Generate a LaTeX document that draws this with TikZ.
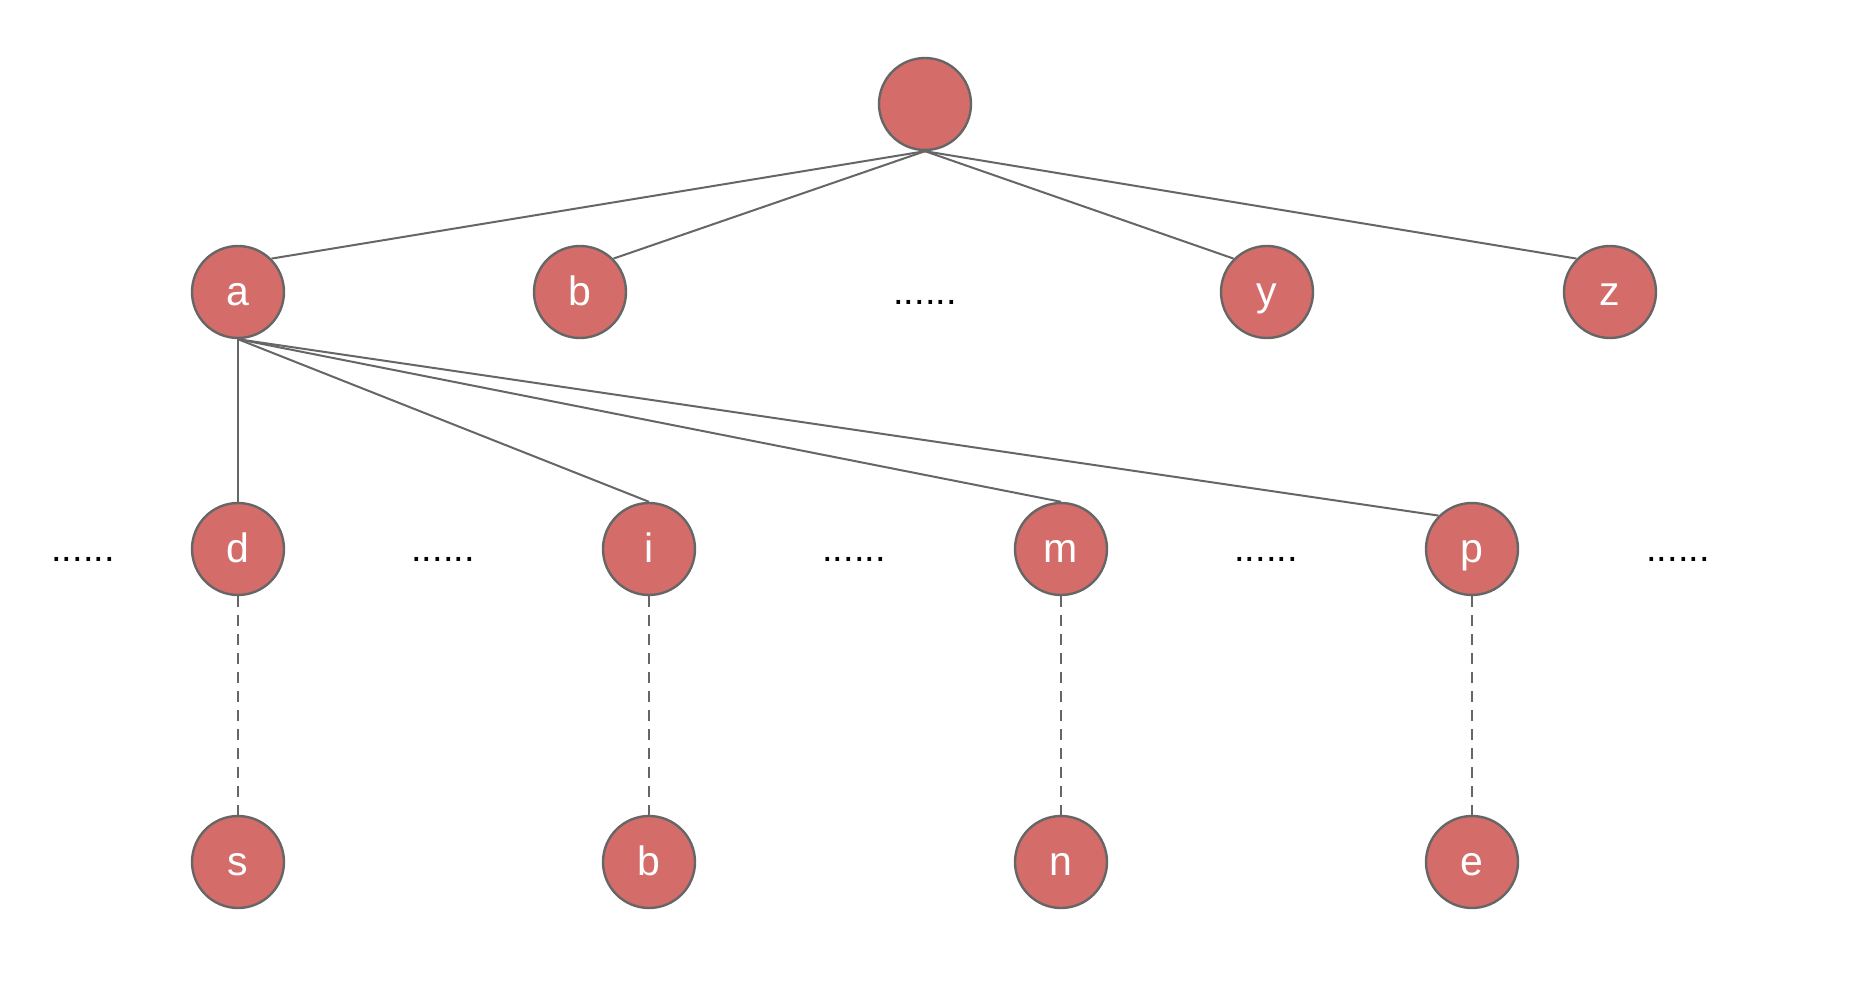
\documentclass[tikz,border=0pt]{standalone}
\usepackage{fontspec}
\setmainfont{Liberation Sans}
\usepackage{xcolor}
\usepackage{tikz}
\usetikzlibrary{calc,arrows.meta}
\definecolor{noeud}{RGB}{212,108,106}
\definecolor{trait}{RGB}{102,102,102}
\tikzset{
	sommet/.style={circle,draw=trait,line width=1.2pt,fill=noeud,minimum size=46pt,inner sep=0pt,text=white,text height=18.1pt,text depth=4.2pt,font=\fontsize{20.5}{23}\selectfont},
	points/.style={anchor=base,inner sep=0pt,font=\fontsize{19}{22}\selectfont},
	arete/.style={draw=trait,line width=1pt},
	pointille/.style={draw=trait,line width=1pt,dash pattern=on 5.5pt off 4pt}
}

\begin{document}
\begin{tikzpicture}[x=0.5pt,y=-0.5pt]
		\useasboundingbox (0,0) rectangle (1854,1000);
		\node[sommet] (racine) at (925,104) {};
		\node[sommet] (a) at (238,292) {a};
		\node[sommet] (b1) at (580,292) {b};
		\node[points] (pts0) at (925,305) {......};
		\node[sommet] (y) at (1267,292) {y};
		\node[sommet] (z) at (1610,292) {z};
		\draw[arete] (racine.south)--(a.north east);
		\draw[arete] (racine.south)--(b1.north east);
		\draw[arete] (racine.south)--(y.north west);
		\draw[arete] (racine.south)--(z.north west);
		% deuxieme niveau
		\node[points] (pts1) at (83,561) {......};
		\node[sommet] (d) at (238,549) {d};
		\node[points] (pts2) at (443,561) {......};
		\node[sommet] (i) at (649,549) {i};
		\node[points] (pts3) at (854,561) {......};
		\node[sommet] (m) at (1061,549) {m};
		\node[points] (pts4) at (1266,561) {......};
		\node[sommet] (p) at (1472,549) {p};
		\node[points] (pts5) at (1678,561) {......};
		\draw[arete] (a.south)--(d.north);
		\draw[arete] (a.south)--(i.north);
		\draw[arete] (a.south)--(m.north);
		\draw[arete] (a.south)--(p.north west);
		% troisieme niveau
		\node[sommet] (s) at (238,862) {s};
		\node[sommet] (b2) at (649,862) {b};
		\node[sommet] (n) at (1061,862) {n};
		\node[sommet] (e) at (1472,862) {e};
		\draw[pointille] (d.south)--(s.north);
		\draw[pointille] (i.south)--(b2.north);
		\draw[pointille] (m.south)--(n.north);
		\draw[pointille] (p.south)--(e.north);
	\end{tikzpicture}
\end{document}
